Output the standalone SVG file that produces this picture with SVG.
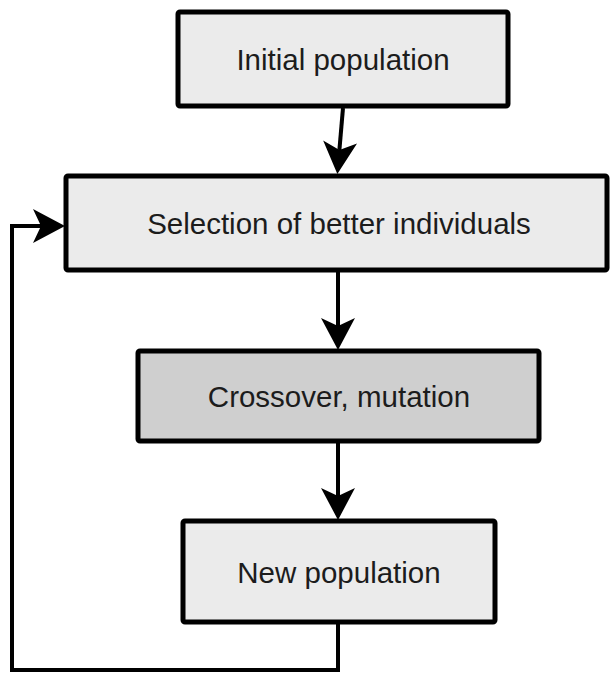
<svg xmlns="http://www.w3.org/2000/svg" width="610" height="676" viewBox="0 0 610 676">
<style>
.box{fill:#ebebeb;stroke:#000;stroke-width:5}
.dark{fill:#cfcfcf}
.lbl{font-family:"Liberation Sans",Arial,sans-serif;font-size:29.5px;fill:#1c1c1c;text-anchor:middle}
.edge{fill:none;stroke:#000;stroke-width:4}
</style>
<defs>
<marker id="ah" markerUnits="userSpaceOnUse" markerWidth="40" markerHeight="40" viewBox="-10 -20 40 40" refX="0" refY="0" orient="auto">
<path d="M24,0 L-8,-17 L0,0 L-8,17 Z" fill="#000"/>
</marker>
</defs>
<rect width="610" height="676" fill="#fff"/>
<g id="connectors">
<path class="edge" d="M343,108 L339.4,150" marker-end="url(#ah)"/>
<path class="edge" d="M338,272 V326" marker-end="url(#ah)"/>
<path class="edge" d="M338,442 V496" marker-end="url(#ah)"/>
<path class="edge" d="M338,622 V670 H12 V226 H41" marker-end="url(#ah)"/>
</g>
<g id="initial">
<rect class="box" x="178" y="12" width="330" height="94" rx="2"/>
<text class="lbl" x="343" y="70">Initial population</text>
</g>
<g id="selection">
<rect class="box" x="66" y="176" width="541" height="94" rx="2"/>
<text class="lbl" x="339" y="234">Selection of better individuals</text>
</g>
<g id="crossover">
<rect class="box dark" x="138" y="351" width="401" height="90" rx="2"/>
<text class="lbl" x="339" y="407">Crossover, mutation</text>
</g>
<g id="newpop">
<rect class="box" x="183" y="521" width="312" height="101" rx="2"/>
<text class="lbl" x="339" y="583">New population</text>
</g>
</svg>
